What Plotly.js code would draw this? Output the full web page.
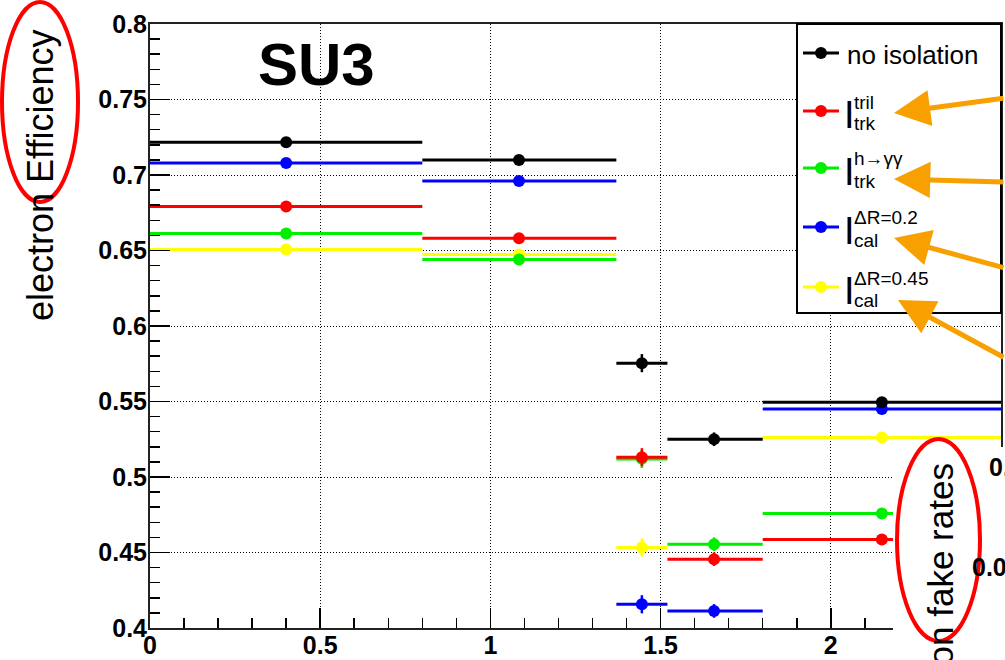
<!DOCTYPE html>
<html>
<head>
<meta charset="utf-8">
<script src="https://cdn.plot.ly/plotly-3.0.1.min.js"></script>
<style>html,body{margin:0;padding:0;background:#fff;} #chart{width:1005px;height:660px;}</style>
</head>
<body>
<div id="chart"></div>
<script>
// ---- data ----
const binLow  = [0.0, 0.8, 1.37, 1.52, 1.8];
const binHigh = [0.8, 1.37, 1.52, 1.8, 2.5];
const binMean = [0.40, 1.084, 1.445, 1.657, 2.15];
const effErr  = [0.0015, 0.0015, 0.006, 0.0045, 0.0035];

const effNoIsolation = [0.7217, 0.7099, 0.5754, 0.5250, 0.5495];
const effTrkTril     = [0.6792, 0.6581, 0.5131, 0.4456, 0.4586];
const effTrkHgg      = [0.6612, 0.6441, 0.5120, 0.4555, 0.4759];
const effCalDR02     = [0.7079, 0.6960, 0.4157, 0.4113, 0.5451];
const effCalDR045    = [0.6507, 0.6474, 0.4533, null,   0.5261];

const seriesNames = ['no isolation', 'I_trk^tril', 'I_trk^h→γγ', 'I_cal^ΔR=0.2', 'I_cal^ΔR=0.45'];
const legendMain  = ['no isolation', 'I', 'I', 'I', 'I'];
const legendSup   = ['', 'tril', 'h→γγ', 'ΔR=0.2', 'ΔR=0.45'];
const legendSub   = ['', 'trk', 'trk', 'cal', 'cal'];
const seriesColors = ['#000000', '#ff0000', '#00ee00', '#0000ff', '#ffff00'];
const seriesValues = [effNoIsolation, effTrkTril, effTrkHgg, effCalDR02, effCalDR045];

const yTitle = 'electron Efficiency';
const plotLabel = 'SU3';

// ---- layout helpers (pixel -> paper) ----
const L = 150, T = 24, W = 851, H = 604;
const px = x => (x - L) / W;
const py = y => (T + H - y) / H;
const FONT = 'Liberation Sans, Arial, Helvetica, sans-serif';

const errPlus  = binMean.map((m, i) => binHigh[i] - m);
const errMinus = binMean.map((m, i) => m - binLow[i]);

// draw order: yellow, blue, green, red, black (as in the reference overlaps)
const drawOrder = [4, 3, 2, 1, 0];
const traces = drawOrder.map(i => ({
  type: 'scatter',
  mode: 'markers',
  name: seriesNames[i],
  x: binMean,
  y: seriesValues[i],
  marker: {color: seriesColors[i], size: 12},
  error_x: {type: 'data', symmetric: false, array: errPlus, arrayminus: errMinus,
            width: 0, thickness: 3, color: seriesColors[i]},
  error_y: {type: 'data', array: effErr, width: 0, thickness: 2.5, color: seriesColors[i]},
  showlegend: false,
  cliponaxis: true
}));

const shapes = [];
const annotations = [];

// white panel hiding lower-right corner (overlapping second figure)
shapes.push({type: 'rect', xref: 'paper', yref: 'paper', layer: 'above',
  x0: px(893), x1: px(1012), y0: py(668), y1: py(447),
  fillcolor: '#ffffff', line: {width: 0}});

// legend box
shapes.push({type: 'rect', xref: 'paper', yref: 'paper', layer: 'above',
  x0: px(797), x1: px(1001), y0: py(313), y1: py(24),
  fillcolor: '#ffffff', line: {color: '#000000', width: 2}});

const legendY = [53, 111, 168, 227, 287];
for (let i = 0; i < 5; i++) {
  const y = legendY[i];
  shapes.push({type: 'line', xref: 'paper', yref: 'paper', layer: 'above',
    x0: px(803), x1: px(839), y0: py(y), y1: py(y),
    line: {color: seriesColors[i], width: 3}});
  shapes.push({type: 'circle', xref: 'paper', yref: 'paper', layer: 'above',
    x0: px(815), x1: px(827), y0: py(y + 6), y1: py(y - 6),
    fillcolor: seriesColors[i], line: {color: seriesColors[i], width: 0}});
  if (i === 0) {
    annotations.push({xref: 'paper', yref: 'paper', x: px(845), y: py(y + 2),
      xanchor: 'left', yanchor: 'middle', showarrow: false, text: legendMain[i],
      font: {family: FONT, size: 26, color: '#000'}});
  } else {
    annotations.push({xref: 'paper', yref: 'paper', x: px(842), y: py(y + 4),
      xanchor: 'left', yanchor: 'middle', showarrow: false, text: legendMain[i],
      font: {family: FONT, size: 38, color: '#000'}});
    annotations.push({xref: 'paper', yref: 'paper', x: px(852), y: py(y - 9),
      xanchor: 'left', yanchor: 'middle', showarrow: false, text: legendSup[i],
      font: {family: FONT, size: 19, color: '#000'}});
    annotations.push({xref: 'paper', yref: 'paper', x: px(852), y: py(y + 13),
      xanchor: 'left', yanchor: 'middle', showarrow: false, text: legendSub[i],
      font: {family: FONT, size: 19, color: '#000'}});
  }
}

// plot label
annotations.push({xref: 'paper', yref: 'paper', x: px(316), y: py(65),
  xanchor: 'center', yanchor: 'middle', showarrow: false, text: '<b>' + plotLabel + '</b>',
  font: {family: FONT, size: 60, color: '#000'}});

// y axis title (placed at the upper end of the axis, as in the reference)
annotations.push({xref: 'paper', yref: 'paper', x: px(41), y: py(176),
  xanchor: 'center', yanchor: 'middle', showarrow: false, text: yTitle, textangle: -90,
  font: {family: FONT, size: 36, color: '#000'}});

// pieces of the neighbouring figure (cut off at the edge, as in the reference)
annotations.push({xref: 'paper', yref: 'paper', x: px(940), y: py(607),
  xanchor: 'center', yanchor: 'middle', showarrow: false, text: 'electron fake rates', textangle: -90,
  font: {family: FONT, size: 35, color: '#000'}});
annotations.push({xref: 'paper', yref: 'paper', x: px(987), y: py(467),
  xanchor: 'left', yanchor: 'middle', showarrow: false, text: '<b>0.</b>',
  font: {family: FONT, size: 25, color: '#000'}});
annotations.push({xref: 'paper', yref: 'paper', x: px(970), y: py(567),
  xanchor: 'left', yanchor: 'middle', showarrow: false, text: '<b>0.0</b>',
  font: {family: FONT, size: 25, color: '#000'}});

// red ellipses
shapes.push({type: 'circle', xref: 'paper', yref: 'paper', layer: 'above',
  x0: px(2), x1: px(78), y0: py(202), y1: py(2),
  line: {color: '#ff0000', width: 4}});
shapes.push({type: 'circle', xref: 'paper', yref: 'paper', layer: 'above',
  x0: px(897), x1: px(980), y0: py(641), y1: py(439),
  line: {color: '#ff0000', width: 4}});

// orange arrows
const arrows = [[894, 113, 118, -15], [894, 179, 118, 3], [894, 238, 118, 30], [898, 300, 112, 58]];
arrows.forEach(a => annotations.push({xref: 'paper', yref: 'paper', x: px(a[0]), y: py(a[1]),
  ax: a[2], ay: a[3], text: '', showarrow: true, arrowhead: 2, arrowsize: 1.45,
  arrowwidth: 5, arrowcolor: '#f7a000'}));

const layout = {
  width: 1005, height: 660,
  margin: {l: L, r: 1005 - L - W, t: T, b: 660 - T - H, pad: 0},
  paper_bgcolor: '#ffffff', plot_bgcolor: '#ffffff',
  showlegend: false,
  font: {family: FONT, color: '#000'},
  xaxis: {
    range: [0, 2.5], tickmode: 'linear', tick0: 0, dtick: 0.5,
    ticks: 'inside', ticklen: 20, tickwidth: 1.5, tickcolor: '#000',
    minor: {ticks: 'inside', ticklen: 10, dtick: 0.1, tick0: 0, tickwidth: 1.5, tickcolor: '#000', showgrid: false},
    showgrid: true, gridcolor: '#000', gridwidth: 1, griddash: '1px,2px',
    showline: true, linecolor: '#222', linewidth: 2, mirror: true,
    zeroline: false, ticklabelstandoff: -6,
    tickfont: {family: FONT, size: 25, weight: 'bold', color: '#000'}
  },
  yaxis: {
    range: [0.4, 0.8], tickmode: 'linear', tick0: 0.4, dtick: 0.05,
    ticks: 'inside', ticklen: 20, tickwidth: 1.5, tickcolor: '#000',
    minor: {ticks: 'inside', ticklen: 10, dtick: 0.01, tick0: 0.4, tickwidth: 1.5, tickcolor: '#000', showgrid: false},
    showgrid: true, gridcolor: '#000', gridwidth: 1, griddash: '1px,2px',
    showline: true, linecolor: '#222', linewidth: 2, mirror: true,
    zeroline: false, ticklabelstandoff: -4,
    tickfont: {family: FONT, size: 25, weight: 'bold', color: '#000'}
  },
  shapes: shapes,
  annotations: annotations
};

Plotly.newPlot('chart', traces, layout, {displayModeBar: false, staticPlot: true});
</script>
</body>
</html>
